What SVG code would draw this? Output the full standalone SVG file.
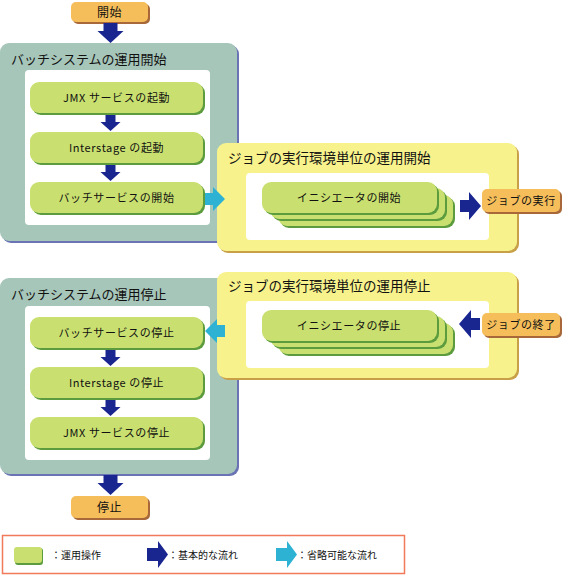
<svg xmlns="http://www.w3.org/2000/svg" width="562" height="576" viewBox="0 0 562 576">
<style>
text{font-family:"Noto Sans CJK JP","Noto Sans",sans-serif;fill:#111}
.title{font-size:13px}
.ytitle{font-size:13.5px}
.lbl{font-size:11px;text-anchor:middle;letter-spacing:0.6px}
.leg{font-size:10px}
.gp{fill:#A7C6BA}
.gps{fill:#6A74B4}
.yp{fill:#F7F28C}
.yps{fill:#C8A048}
.wh{fill:#fff}
.op{fill:#F5BE5A}
.ops{fill:#A8683A}
.gn{fill:#C9E070}
.gns{fill:#5C9C3E}
.ab{fill:#1A2690}
.ac{fill:#2EB2D4}
</style>
<defs>
<path id="down" d="M-7,0 H7 V8 H13 L0,20 L-13,8 H-7 Z"/>
<path id="sdown" d="M-5,0 H5 V7 H10 L0,16 L-10,7 H-5 Z"/>
</defs>

<g id="start">
<rect class="ops" x="73" y="4" width="77" height="20" rx="5"/>
<rect class="op" x="71" y="2" width="77" height="20" rx="5"/>
<text class="lbl" x="109.5" y="16.5" style="font-size:12px">開始</text>
</g>

<g id="panel-batch-start">
<rect class="gps" x="2" y="45" width="237" height="198" rx="9"/>
<rect class="gp" x="0" y="43" width="237" height="198" rx="9"/>
<text class="title" x="11" y="64">バッチシステムの運用開始</text>
<rect class="wh" x="25" y="70" width="185" height="155" rx="4"/>
</g>
<g id="n-jmx-start">
<rect class="gns" x="32" y="84" width="173" height="31" rx="9"/>
<rect class="gn" x="30" y="82" width="173" height="31" rx="9"/>
<text class="lbl" x="116.5" y="102">JMX サービスの起動</text>
</g>
<g id="n-is-start">
<rect class="gns" x="32" y="134" width="173" height="31" rx="9"/>
<rect class="gn" x="30" y="132" width="173" height="31" rx="9"/>
<text class="lbl" x="116.5" y="152">Interstage の起動</text>
</g>
<g id="n-batch-start">
<rect class="gns" x="32" y="184" width="173" height="31" rx="9"/>
<rect class="gn" x="30" y="182" width="173" height="31" rx="9"/>
<text class="lbl" x="116.5" y="202">バッチサービスの開始</text>
</g>

<g id="panel-job-start">
<rect class="yps" x="219" y="145" width="300" height="108" rx="9"/>
<rect class="yp" x="217" y="143" width="300" height="108" rx="9"/>
<text class="ytitle" x="228" y="163">ジョブの実行環境単位の運用開始</text>
<rect class="wh" x="246" y="173" width="243" height="67" rx="4"/>
</g>
<g id="n-init-start">
<rect class="gns" x="280" y="197" width="175" height="31" rx="9"/>
<rect class="gn" x="278" y="195" width="175" height="31" rx="9"/>
<rect class="gns" x="272" y="190" width="175" height="31" rx="9"/>
<rect class="gn" x="270" y="188" width="175" height="31" rx="9"/>
<rect class="gns" x="264" y="184" width="175" height="31" rx="9"/>
<rect class="gn" x="262" y="182" width="175" height="31" rx="9"/>
<text class="lbl" x="349" y="202">イニシエータの開始</text>
</g>
<g id="job-run">
<rect class="ops" x="484" y="191" width="78" height="23" rx="5"/>
<rect class="op" x="482" y="189" width="78" height="23" rx="5"/>
<text class="lbl" x="521" y="205">ジョブの実行</text>
</g>

<g id="panel-batch-stop">
<rect class="gps" x="2" y="280" width="237" height="196" rx="9"/>
<rect class="gp" x="0" y="278" width="237" height="196" rx="9"/>
<text class="title" x="11" y="299">バッチシステムの運用停止</text>
<rect class="wh" x="25" y="306" width="185" height="154" rx="4"/>
</g>
<g id="n-batch-stop">
<rect class="gns" x="32" y="319" width="173" height="31" rx="9"/>
<rect class="gn" x="30" y="317" width="173" height="31" rx="9"/>
<text class="lbl" x="116.5" y="337">バッチサービスの停止</text>
</g>
<g id="n-is-stop">
<rect class="gns" x="32" y="369" width="173" height="31" rx="9"/>
<rect class="gn" x="30" y="367" width="173" height="31" rx="9"/>
<text class="lbl" x="116.5" y="387">Interstage の停止</text>
</g>
<g id="n-jmx-stop">
<rect class="gns" x="32" y="419" width="173" height="31" rx="9"/>
<rect class="gn" x="30" y="417" width="173" height="31" rx="9"/>
<text class="lbl" x="116.5" y="437">JMX サービスの停止</text>
</g>

<g id="panel-job-stop">
<rect class="yps" x="219" y="274" width="300" height="106" rx="9"/>
<rect class="yp" x="217" y="272" width="300" height="106" rx="9"/>
<text class="ytitle" x="228" y="291">ジョブの実行環境単位の運用停止</text>
<rect class="wh" x="246" y="301" width="243" height="67" rx="4"/>
</g>
<g id="n-init-stop">
<rect class="gns" x="280" y="325" width="175" height="31" rx="9"/>
<rect class="gn" x="278" y="323" width="175" height="31" rx="9"/>
<rect class="gns" x="272" y="318" width="175" height="31" rx="9"/>
<rect class="gn" x="270" y="316" width="175" height="31" rx="9"/>
<rect class="gns" x="264" y="312" width="175" height="31" rx="9"/>
<rect class="gn" x="262" y="310" width="175" height="31" rx="9"/>
<text class="lbl" x="349" y="330">イニシエータの停止</text>
</g>
<g id="job-end">
<rect class="ops" x="484" y="315" width="78" height="23" rx="5"/>
<rect class="op" x="482" y="313" width="78" height="23" rx="5"/>
<text class="lbl" x="521" y="329">ジョブの終了</text>
</g>

<g id="stop">
<rect class="ops" x="73" y="498" width="77" height="22" rx="5"/>
<rect class="op" x="71" y="496" width="77" height="22" rx="5"/>
<text class="lbl" x="109.5" y="511.5" style="font-size:12px">停止</text>
</g>

<g id="connectors">
<use href="#down" class="ab" x="110.5" y="23"/>
<use href="#sdown" class="ab" x="110.5" y="115"/>
<use href="#sdown" class="ab" x="110.5" y="165"/>
<path class="ac" d="M205,193 H213 V187 L225,199 L213,211 V205 H205 Z"/>
<path class="ab" d="M460,200 H469 V192 L481,206 L469,220 V212 H460 Z"/>
<path class="ab" d="M480,318 H471 V310 L459,324 L471,338 V330 H480 Z"/>
<path class="ac" d="M225,325 H217 V319 L205,331 L217,343 V337 H225 Z"/>
<use href="#sdown" class="ab" x="110.5" y="350"/>
<use href="#sdown" class="ab" x="110.5" y="400"/>
<use href="#down" class="ab" x="110.5" y="475"/>
</g>

<g id="legend">
<rect x="2.5" y="535.5" width="402" height="38" fill="#fff" stroke="#F07A5A" stroke-width="1.5"/>
<rect x="15" y="548" width="28" height="17" rx="3" fill="#5C9C3E"/>
<rect x="14" y="547" width="28" height="16" rx="3" class="gn"/>
<text class="leg" x="51" y="559">：運用操作</text>
<path class="ab" d="M147,548 H158 V541 L168,554.5 L158,568 V561 H147 Z"/>
<text class="leg" x="168" y="559">：基本的な流れ</text>
<path class="ac" d="M276,548 H287 V541 L297,554.5 L287,568 V561 H276 Z"/>
<text class="leg" x="297" y="559">：省略可能な流れ</text>
</g>
</svg>
